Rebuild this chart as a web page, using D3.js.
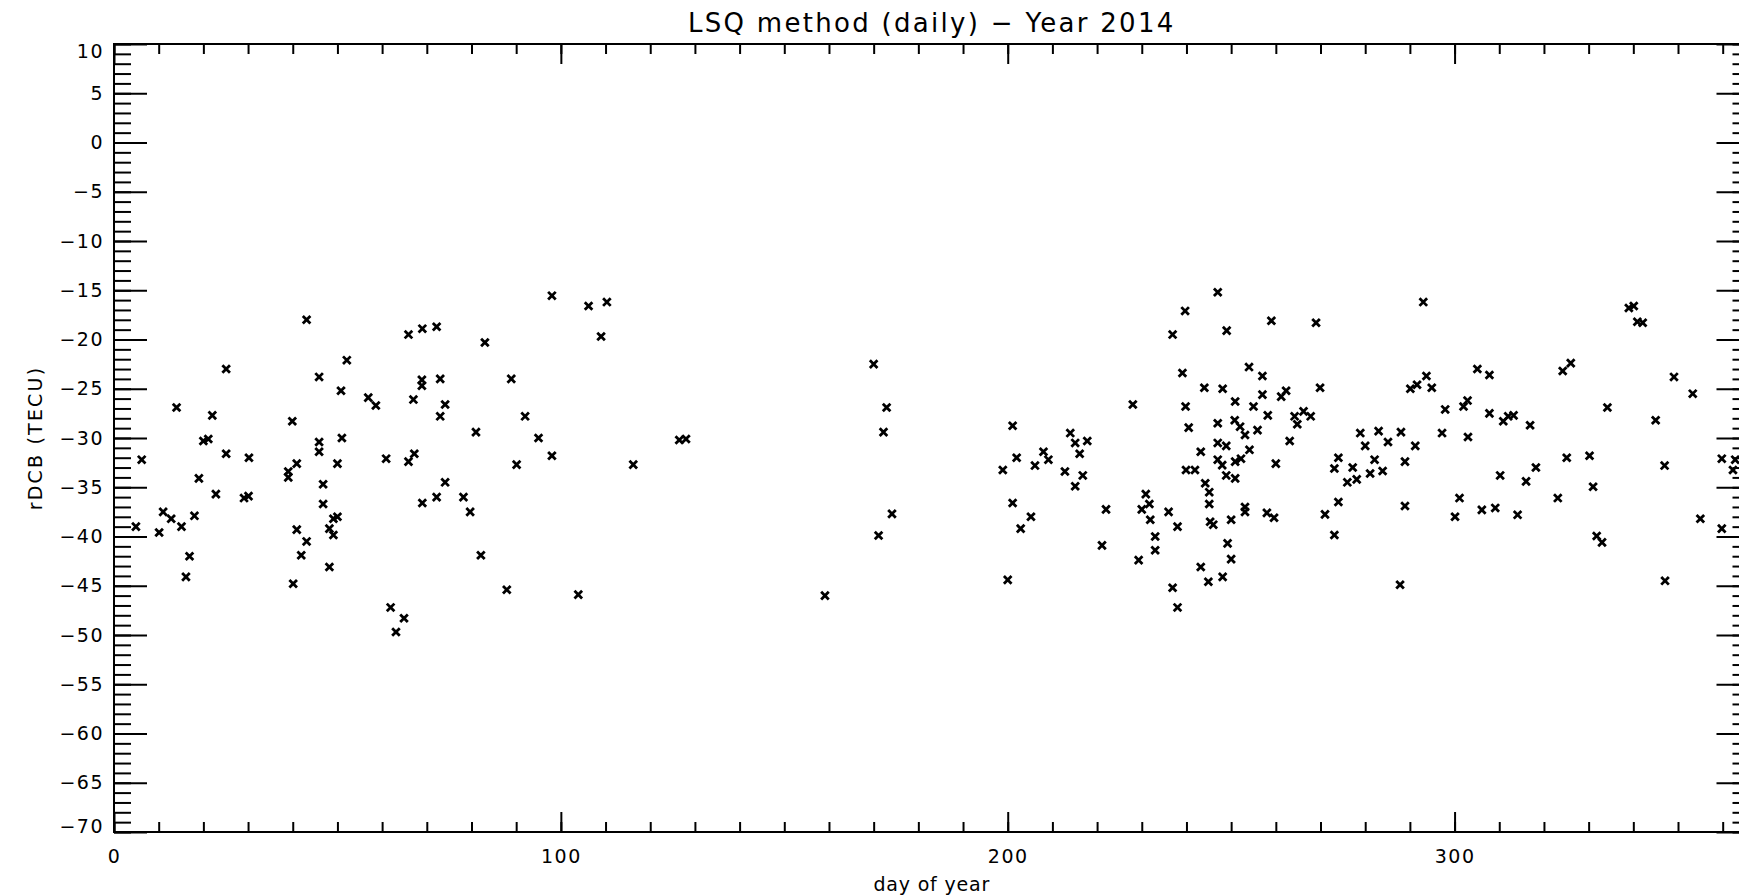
<!DOCTYPE html>
<meta charset="utf-8">
<style>
body { margin: 0; background: #fff; }
svg { display: block; }
text { font-family: "DejaVu Sans", sans-serif; fill: #000; }
.tick line { stroke: #000; stroke-width: 2px; }
.tick text { font-size: 19px; letter-spacing: 1.5px; }
.frame { fill: none; stroke: #000; stroke-width: 2px; }
.pts path { fill: none; stroke: #000; stroke-width: 2.8px; }
</style>
<svg width="1739" height="896"></svg>
<script src="https://d3js.org/d3.v7.min.js"></script>
<script>

// day of year / rDCB (TECU)
var doy = [
  4.9, 6.2, 10.1, 11.0, 12.8, 14.0, 15.1, 16.1, 16.9, 18.0, 19.0, 20.0, 21.1, 22.0, 22.8,
  25.1, 25.1, 29.1, 30.1, 30.2, 39.0, 39.0, 39.9, 40.1, 40.9, 40.9, 41.9, 43.1, 43.1, 45.9,
  45.9, 45.9, 46.8, 46.8, 48.2, 48.2, 49.1, 49.1, 50.0, 50.0, 50.8, 51.0, 52.1, 56.9, 58.6,
  60.9, 61.9, 63.1, 64.9, 65.9, 65.9, 67.0, 67.2, 68.9, 68.9, 69.0, 69.0, 72.2, 72.2, 73.0,
  73.0, 74.1, 74.1, 78.2, 79.7, 81.0, 82.1, 83.0, 87.9, 88.9, 90.1, 92.0, 95.0, 98.0, 98.0,
  103.9, 106.2, 109.0, 110.3, 116.2,
  126.5, 128.0, 159.1, 170.0, 171.1, 172.2, 172.9, 174.1,
  198.9, 200.0, 201.1, 201.1, 202.0, 202.9, 205.2, 206.1, 208.0, 209.1, 212.8, 214.0, 215.1,
  215.1, 216.1, 216.8, 217.8, 221.1, 222.0, 228.0, 229.3, 230.0, 230.9, 231.7, 231.9, 233.0,
  233.0, 236.0, 236.9, 236.9, 238.0, 238.0, 239.1, 239.7, 239.8, 240.5,
  239.9, 241.9, 243.2, 243.2, 244.0, 244.2, 244.9, 245.1, 245.1, 245.3, 246.0, 247.0, 247.0,
  247.0, 247.0, 248.0, 248.1, 248.1, 248.9, 248.9, 249.0, 249.2, 250.0, 250.0, 250.8, 250.9,
  250.9, 250.9, 252.0, 252.2, 253.1, 253.1, 253.1, 254.0, 254.1, 255.0, 255.9, 257.0, 257.0,
  258.0, 258.2, 259.0, 259.6, 260.0, 261.2, 262.3, 263.1, 264.2, 264.8, 266.2, 267.8, 269.0,
  269.9, 271.0, 273.1, 273.1, 274.0, 274.0, 276.0, 277.2, 278.1, 278.9, 280.0, 281.1, 282.1,
  283.0, 283.9, 285.1, 287.8, 288.0, 288.9, 288.9, 290.1, 291.2, 291.6, 293.0, 293.7, 294.9,
  297.2, 297.9,
  300.1, 301.1, 302.0, 302.9, 303.0, 305.1, 306.1, 307.8, 307.8, 309.1, 310.2, 310.9, 312.0,
  313.2, 314.1, 316.0, 316.9, 318.2, 323.1, 324.2, 325.1, 326.0, 330.2, 331.0, 331.8, 333.0,
  334.2, 339.0, 340.1, 340.9, 342.1, 345.0, 347.0, 347.1, 349.1, 353.3, 355.0, 359.8, 359.8,
  362.3, 362.8
];
var rdcb = [
  -39.0, -32.2, -39.6, -37.5, -38.2, -26.9, -39.0, -44.1, -42.0, -37.9, -34.1, -30.3, -30.1, -27.7, -35.7,
  -23.0, -31.6, -36.1, -35.9, -32.0, -33.4, -34.0, -28.3, -44.8, -32.6, -39.3, -41.9, -40.5, -18.0, -23.8,
  -30.4, -31.4, -34.7, -36.7, -43.1, -39.2, -39.85, -38.2, -38.0, -32.6, -25.2, -30.0, -22.1, -25.9, -26.7,
  -32.1, -47.2, -49.7, -48.3, -19.5, -32.4, -26.1, -31.6, -24.1, -24.7, -18.9, -36.6, -18.7, -36.0, -24.0,
  -27.8, -26.6, -34.5, -36.0, -37.5, -29.4, -41.9, -20.3, -45.4, -24.0, -32.7, -27.8, -30.0, -15.55, -31.8,
  -45.9, -16.6, -19.7, -16.2, -32.7,
  -30.2, -30.1, -46.0, -22.5, -39.9, -29.4, -26.9, -37.7,
  -33.25, -44.4, -28.75, -36.6, -32.0, -39.2, -38.0, -32.8, -31.4, -32.2, -33.4, -29.5, -30.5,
  -34.9, -31.6, -33.8, -30.3, -40.9, -37.25, -26.6, -42.4, -37.25, -35.7, -36.7, -38.3, -40.0,
  -41.4, -37.5, -19.5, -45.2, -39.0, -47.2, -23.4, -17.1, -26.8, -28.95,
  -33.25, -33.25, -31.4, -43.1, -24.9, -34.6, -44.6, -35.5, -36.7, -38.5, -38.8, -15.2, -28.5,
  -30.5, -32.2, -32.75, -25.0, -44.1, -30.8, -33.8, -19.1, -40.7, -38.3, -42.3, -28.2, -26.3,
  -32.4, -34.1, -28.85, -32.1, -29.7, -37.0, -37.5, -22.8, -31.2, -26.8, -29.2, -23.7, -25.6,
  -37.6, -27.7, -18.1, -38.1, -32.6, -25.8, -25.2, -30.3, -27.8, -28.6, -27.3, -27.8, -18.3,
  -24.9, -37.75, -33.1, -39.85, -32.0, -36.5, -34.5, -33.0, -34.2, -29.5, -30.8, -33.6, -32.2,
  -29.3, -33.35, -30.4, -44.9, -29.4, -32.4, -36.9, -25.0, -30.8, -24.6, -16.2, -23.7, -24.9,
  -29.5, -27.1,
  -38.0, -36.1, -26.8, -26.2, -29.9, -23.0, -37.3, -23.6, -27.5, -37.1, -33.8, -28.3, -27.8,
  -27.7, -37.8, -34.4, -28.7, -33.0, -36.1, -23.2, -32.0, -22.4, -31.8, -34.95, -39.95, -40.6,
  -26.9, -16.8, -16.6, -18.2, -18.3, -28.2, -32.8, -44.5, -23.8, -25.5, -38.2, -32.1, -39.2,
  -33.25, -32.2
];

var xMajor = [0, 100, 200, 300];
var xMinor = d3.range(0, 367, 10);
var yMajor = d3.range(-70, 11, 5);
var yMinor = d3.range(-70, 11, 1);

var svg = d3.select("svg");

var plotL = 114, plotR = 1749.5, plotT = 44, plotB = 832;

var x = d3.scaleLinear().domain([0, 366]).range([plotL, plotR]);
var y = d3.scaleLinear().domain([-70, 10]).range([plotB, plotT]);

var fmt = function(d) { return d3.format("d")(d); };
var noDomain = function(g) { g.select(".domain").remove(); };

// x axes (ticks pointing into the plot)
svg.append("g")
    .attr("transform", "translate(0," + plotB + ")")
    .call(d3.axisBottom(x).tickValues(xMinor).tickSize(-10).tickFormat(""))
    .call(noDomain);
svg.append("g")
    .attr("transform", "translate(0," + plotB + ")")
    .call(d3.axisBottom(x).tickValues(xMajor).tickSize(-20).tickPadding(18).tickFormat(fmt))
    .call(noDomain);
svg.append("g")
    .attr("transform", "translate(0," + plotT + ")")
    .call(d3.axisTop(x).tickValues(xMinor).tickSize(-10).tickFormat(""))
    .call(noDomain);
svg.append("g")
    .attr("transform", "translate(0," + plotT + ")")
    .call(d3.axisTop(x).tickValues(xMajor).tickSize(-20).tickFormat(""))
    .call(noDomain);

// y axes
svg.append("g")
    .attr("transform", "translate(" + plotL + ",0)")
    .call(d3.axisLeft(y).tickValues(yMinor).tickSize(-17).tickFormat(""))
    .call(noDomain);
var yLab = svg.append("g")
    .attr("transform", "translate(" + plotL + ",0)")
    .call(d3.axisLeft(y).tickValues(yMajor).tickSize(-33).tickPadding(10).tickFormat(fmt))
    .call(noDomain);
// end labels are kept inside the axis range, as in the original
yLab.selectAll(".tick text")
    .attr("y", function(d) { return d === 10 ? 7 : d === -70 ? -6 : 0; });

svg.append("g")
    .attr("transform", "translate(" + plotR + ",0)")
    .call(d3.axisRight(y).tickValues(yMinor).tickSize(-17).tickFormat(""))
    .call(noDomain);
svg.append("g")
    .attr("transform", "translate(" + plotR + ",0)")
    .call(d3.axisRight(y).tickValues(yMajor).tickSize(-33).tickFormat(""))
    .call(noDomain);

svg.append("rect")
    .attr("class", "frame")
    .attr("x", plotL).attr("y", plotT)
    .attr("width", plotR - plotL).attr("height", plotB - plotT);

// points, psym=7 style crosses
var pts = doy.map(function(d, i) { return [d, rdcb[i]]; });
svg.append("g").attr("class", "pts")
  .selectAll("path")
  .data(pts)
  .enter().append("path")
    .attr("transform", function(d) { return "translate(" + x(d[0]) + "," + y(d[1]) + ")"; })
    .attr("d", "M-3.8,-3.8L3.8,3.8M-3.8,3.8L3.8,-3.8");

// labels
svg.append("text")
    .attr("x", (plotL + plotR) / 2).attr("y", 32)
    .attr("text-anchor", "middle")
    .style("font-size", "26px").style("letter-spacing", "2.3px")
    .text("LSQ method (daily) − Year 2014");

svg.append("text")
    .attr("x", (plotL + plotR) / 2).attr("y", 891)
    .attr("text-anchor", "middle")
    .style("font-size", "19px").style("letter-spacing", "0.8px")
    .text("day of year");

svg.append("text")
    .attr("transform", "translate(42," + ((plotT + plotB) / 2) + ")rotate(-90)")
    .attr("text-anchor", "middle")
    .style("font-size", "19px").style("letter-spacing", "2.2px")
    .text("rDCB (TECU)");

</script>
